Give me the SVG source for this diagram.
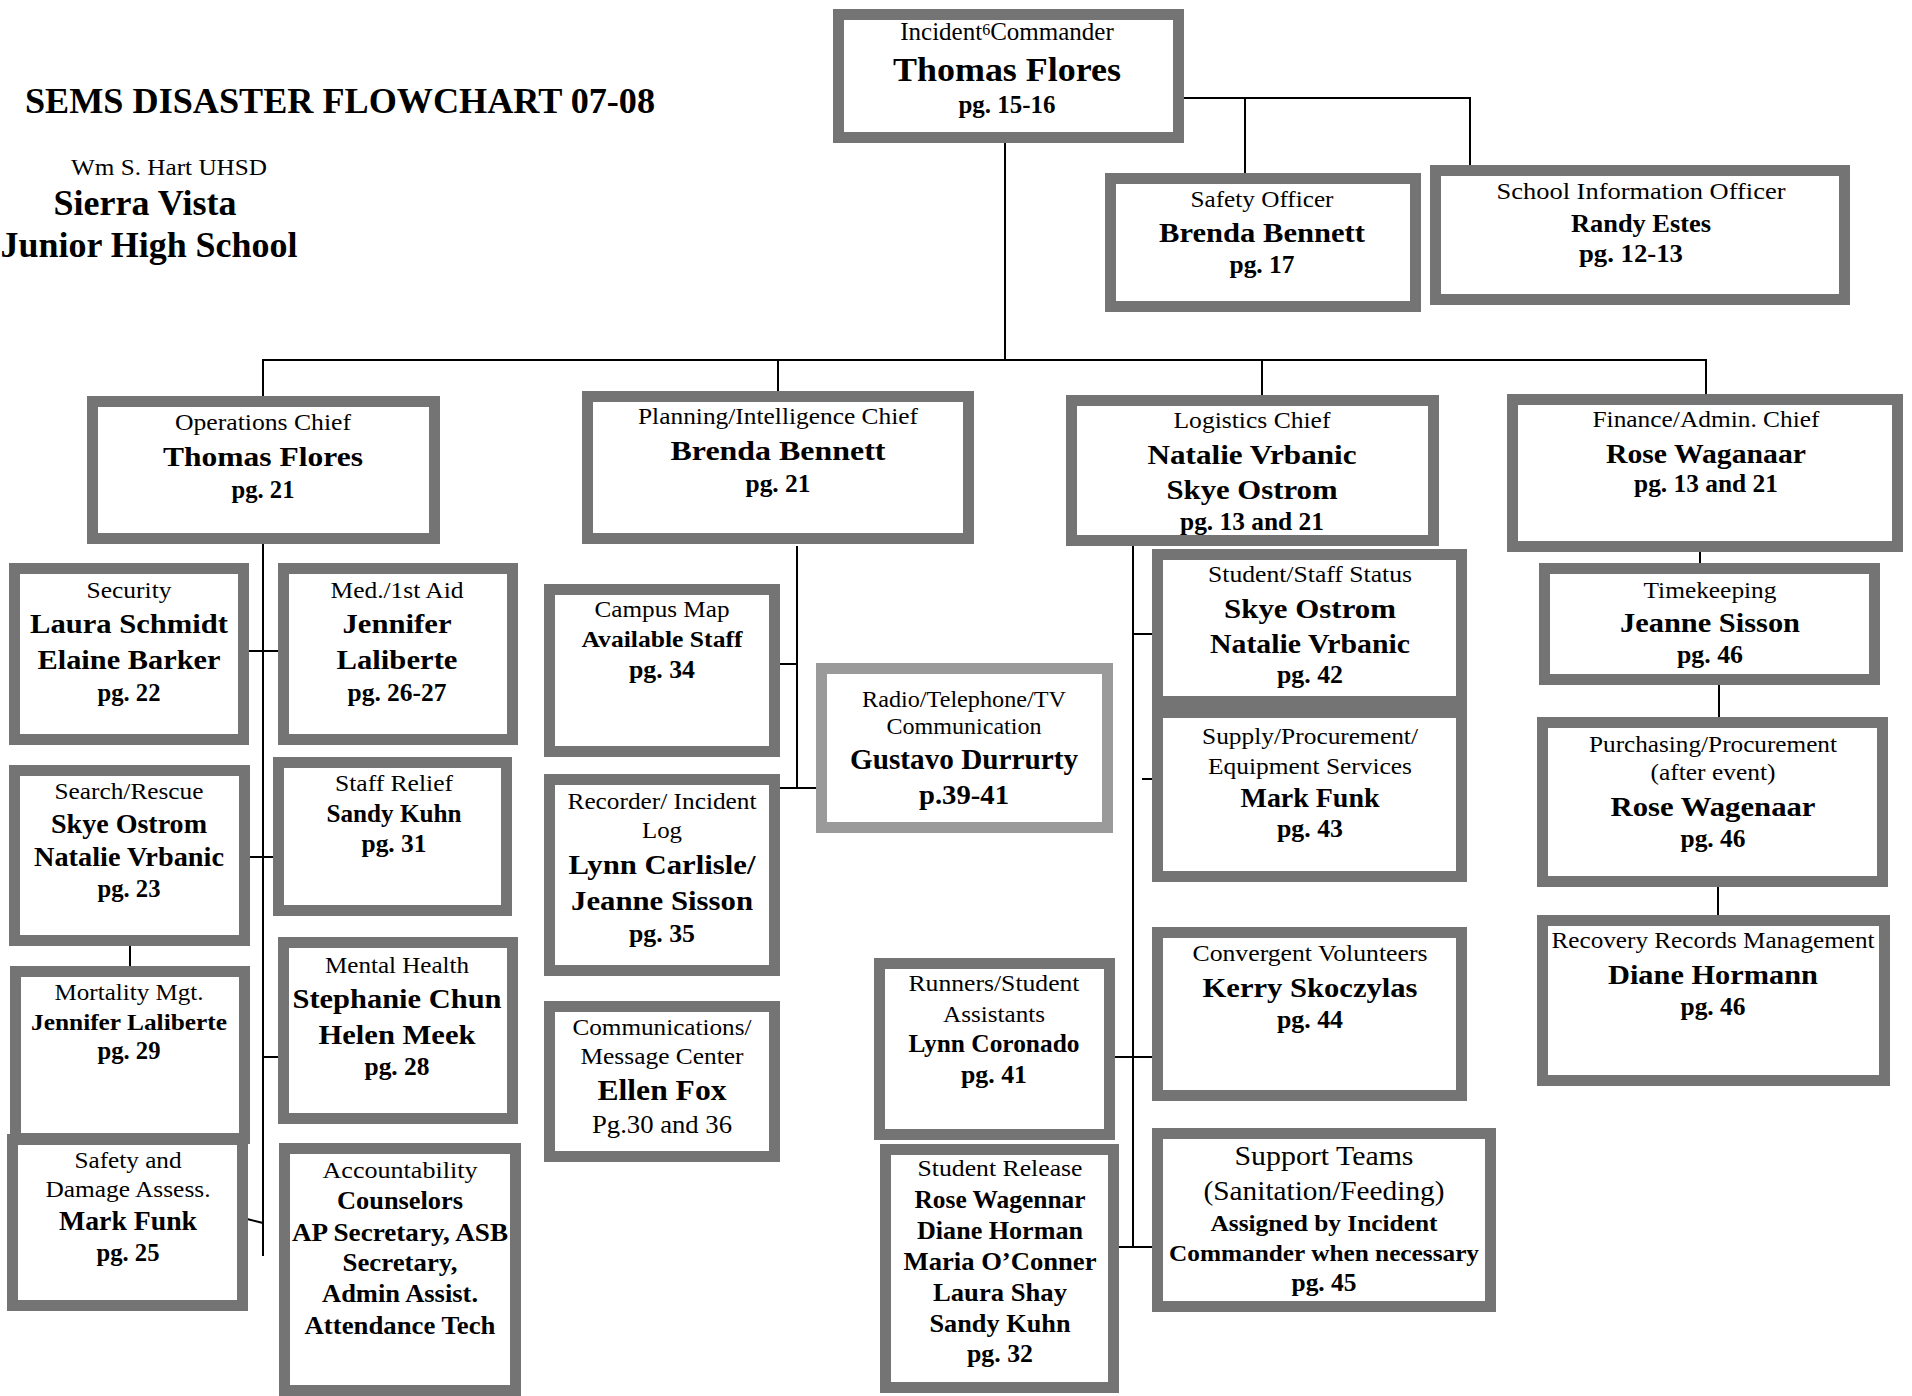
<svg xmlns="http://www.w3.org/2000/svg" width="1912" height="1396" viewBox="0 0 1912 1396">
<style>
text{font-family:"Liberation Serif","Times New Roman",serif;fill:#000;text-anchor:middle}
.box{fill:#fff;stroke:#747474;stroke-width:11}
.boxl{fill:#fff;stroke:#9a9a9a;stroke-width:11}
.l{font-size:24px}
.n{font-size:28px;font-weight:bold}
.p{font-size:25px;font-weight:bold}
.conn line{stroke:#000;stroke-width:2}
</style>
<rect width="1912" height="1396" fill="#fff"/>
<g id="header">
<text x="25" y="113" style="text-anchor:start;font-size:36px;font-weight:bold" textLength="630" lengthAdjust="spacingAndGlyphs">SEMS DISASTER FLOWCHART 07-08</text>
<text x="169" y="175" class="l" textLength="196" lengthAdjust="spacingAndGlyphs">Wm S. Hart UHSD</text>
<text x="145" y="215" style="font-size:35px;font-weight:bold" textLength="183" lengthAdjust="spacingAndGlyphs">Sierra Vista</text>
<text x="149" y="257" style="font-size:35px;font-weight:bold" textLength="297" lengthAdjust="spacingAndGlyphs">Junior High School</text>
</g>
<g class="conn" id="connectors">
<line x1="1182" y1="98" x2="1470" y2="98"/>
<line x1="1245" y1="98" x2="1245" y2="174"/>
<line x1="1470" y1="97" x2="1470" y2="166"/>
<line x1="1005" y1="140" x2="1005" y2="360"/>
<line x1="262" y1="360" x2="1707" y2="360"/>
<line x1="263" y1="359" x2="263" y2="397"/>
<line x1="778" y1="359" x2="778" y2="392"/>
<line x1="1262" y1="359" x2="1262" y2="396"/>
<line x1="1706" y1="359" x2="1706" y2="395"/>
<line x1="263" y1="540" x2="263" y2="1256"/>
<line x1="245" y1="651" x2="283" y2="651"/>
<line x1="245" y1="857" x2="284" y2="857"/>
<line x1="263" y1="1057" x2="282" y2="1057"/>
<line x1="243" y1="1218" x2="263" y2="1223"/>
<line x1="130" y1="944" x2="130" y2="970"/>
<line x1="797" y1="546" x2="797" y2="789"/>
<line x1="777" y1="664" x2="797" y2="664"/>
<line x1="778" y1="788" x2="818" y2="788"/>
<line x1="1133" y1="542" x2="1133" y2="1248"/>
<line x1="1133" y1="634" x2="1154" y2="634"/>
<line x1="1142" y1="779" x2="1156" y2="779"/>
<line x1="1112" y1="1057" x2="1154" y2="1057"/>
<line x1="1117" y1="1247" x2="1154" y2="1247"/>
<line x1="1700" y1="548" x2="1700" y2="570"/>
<line x1="1719" y1="681" x2="1719" y2="721"/>
<line x1="1718" y1="883" x2="1718" y2="919"/>
</g>
<g id="incident-commander">
<rect class="box" x="838.5" y="14.5" width="340" height="123"/>
<text x="1007" y="40" class="l" style="font-size:25px">Incident<tspan font-size="16" dy="-5">6</tspan><tspan dy="5">Commander</tspan></text>
<text x="1007" y="81" class="n" style="font-size:34px" textLength="228" lengthAdjust="spacingAndGlyphs">Thomas Flores</text>
<text x="1007" y="113" class="p" textLength="97" lengthAdjust="spacingAndGlyphs">pg. 15-16</text>
</g>
<g id="safety-officer">
<rect class="box" x="1110.5" y="178.5" width="305" height="128"/>
<text x="1262" y="207" class="l" textLength="143" lengthAdjust="spacingAndGlyphs">Safety Officer</text>
<text x="1262" y="242" class="n" textLength="206" lengthAdjust="spacingAndGlyphs">Brenda Bennett</text>
<text x="1262" y="273" class="p" textLength="65" lengthAdjust="spacingAndGlyphs">pg. 17</text>
</g>
<g id="school-information-officer">
<rect class="box" x="1435.5" y="170.5" width="409" height="129"/>
<text x="1641" y="199" class="l" textLength="289" lengthAdjust="spacingAndGlyphs">School Information Officer</text>
<text x="1641" y="232" class="n" style="font-size:26px" textLength="140" lengthAdjust="spacingAndGlyphs">Randy Estes</text>
<text x="1631" y="262" class="p" textLength="104" lengthAdjust="spacingAndGlyphs">pg. 12-13</text>
</g>
<g id="operations-chief">
<rect class="box" x="92.5" y="401.5" width="342" height="137"/>
<text x="263" y="430" class="l" textLength="176" lengthAdjust="spacingAndGlyphs">Operations Chief</text>
<text x="263" y="466" class="n" textLength="200" lengthAdjust="spacingAndGlyphs">Thomas Flores</text>
<text x="263" y="498" class="p" textLength="63" lengthAdjust="spacingAndGlyphs">pg. 21</text>
</g>
<g id="planning-chief">
<rect class="box" x="587.5" y="396.5" width="381" height="142"/>
<text x="778" y="424" class="l" textLength="280" lengthAdjust="spacingAndGlyphs">Planning/Intelligence Chief</text>
<text x="778" y="460" class="n" textLength="215" lengthAdjust="spacingAndGlyphs">Brenda Bennett</text>
<text x="778" y="492" class="p" textLength="65" lengthAdjust="spacingAndGlyphs">pg. 21</text>
</g>
<g id="logistics-chief">
<rect class="box" x="1071.5" y="400.5" width="362" height="140"/>
<text x="1252" y="428" class="l" textLength="157" lengthAdjust="spacingAndGlyphs">Logistics Chief</text>
<text x="1252" y="464" class="n" textLength="209" lengthAdjust="spacingAndGlyphs">Natalie Vrbanic</text>
<text x="1252" y="499" class="n" textLength="171" lengthAdjust="spacingAndGlyphs">Skye Ostrom</text>
<text x="1252" y="530" class="p" textLength="144" lengthAdjust="spacingAndGlyphs">pg. 13 and 21</text>
</g>
<g id="finance-chief">
<rect class="box" x="1512.5" y="399.5" width="385" height="147"/>
<text x="1706" y="427" class="l" textLength="227" lengthAdjust="spacingAndGlyphs">Finance/Admin. Chief</text>
<text x="1706" y="463" class="n" textLength="200" lengthAdjust="spacingAndGlyphs">Rose Waganaar</text>
<text x="1706" y="492" class="p" textLength="144" lengthAdjust="spacingAndGlyphs">pg. 13 and 21</text>
</g>
<g id="security">
<rect class="box" x="14.5" y="568.5" width="229" height="171"/>
<text x="129" y="598" class="l" textLength="85" lengthAdjust="spacingAndGlyphs">Security</text>
<text x="129" y="633" class="n" textLength="198" lengthAdjust="spacingAndGlyphs">Laura Schmidt</text>
<text x="129" y="669" class="n" textLength="183" lengthAdjust="spacingAndGlyphs">Elaine Barker</text>
<text x="129" y="701" class="p" textLength="63" lengthAdjust="spacingAndGlyphs">pg. 22</text>
</g>
<g id="med-first-aid">
<rect class="box" x="283.5" y="568.5" width="229" height="171"/>
<text x="397" y="598" class="l" textLength="133" lengthAdjust="spacingAndGlyphs">Med./1st Aid</text>
<text x="397" y="633" class="n" textLength="109" lengthAdjust="spacingAndGlyphs">Jennifer</text>
<text x="397" y="669" class="n" textLength="121" lengthAdjust="spacingAndGlyphs">Laliberte</text>
<text x="397" y="701" class="p" textLength="99" lengthAdjust="spacingAndGlyphs">pg. 26-27</text>
</g>
<g id="search-rescue">
<rect class="box" x="14.5" y="770.5" width="230" height="170"/>
<text x="129" y="799" class="l" textLength="149" lengthAdjust="spacingAndGlyphs">Search/Rescue</text>
<text x="129" y="833" class="n" style="font-size:27px" textLength="156" lengthAdjust="spacingAndGlyphs">Skye Ostrom</text>
<text x="129" y="866" class="n" style="font-size:27px" textLength="190" lengthAdjust="spacingAndGlyphs">Natalie Vrbanic</text>
<text x="129" y="897" class="p" textLength="63" lengthAdjust="spacingAndGlyphs">pg. 23</text>
</g>
<g id="staff-relief">
<rect class="box" x="278.5" y="762.5" width="228" height="148"/>
<text x="394" y="791" class="l" textLength="118" lengthAdjust="spacingAndGlyphs">Staff Relief</text>
<text x="394" y="822" class="n" style="font-size:25px" textLength="135" lengthAdjust="spacingAndGlyphs">Sandy Kuhn</text>
<text x="394" y="852" class="p" textLength="65" lengthAdjust="spacingAndGlyphs">pg. 31</text>
</g>
<g id="mortality">
<rect class="box" x="15.5" y="971.5" width="229" height="167"/>
<text x="129" y="1000" class="l" textLength="149" lengthAdjust="spacingAndGlyphs">Mortality Mgt.</text>
<text x="129" y="1030" class="n" style="font-size:24px" textLength="196" lengthAdjust="spacingAndGlyphs">Jennifer Laliberte</text>
<text x="129" y="1059" class="p" textLength="63" lengthAdjust="spacingAndGlyphs">pg. 29</text>
</g>
<g id="mental-health">
<rect class="box" x="283.5" y="942.5" width="229" height="176"/>
<text x="397" y="973" class="l" textLength="144" lengthAdjust="spacingAndGlyphs">Mental Health</text>
<text x="397" y="1008" class="n" textLength="209" lengthAdjust="spacingAndGlyphs">Stephanie Chun</text>
<text x="397" y="1044" class="n" textLength="157" lengthAdjust="spacingAndGlyphs">Helen Meek</text>
<text x="397" y="1075" class="p" textLength="65" lengthAdjust="spacingAndGlyphs">pg. 28</text>
</g>
<g id="safety-damage">
<rect class="box" x="12.5" y="1139.5" width="230" height="166"/>
<text x="128" y="1168" class="l" textLength="107" lengthAdjust="spacingAndGlyphs">Safety and</text>
<text x="128" y="1197" class="l" textLength="165" lengthAdjust="spacingAndGlyphs">Damage Assess.</text>
<text x="128" y="1230" class="n" textLength="138" lengthAdjust="spacingAndGlyphs">Mark Funk</text>
<text x="128" y="1261" class="p" textLength="63" lengthAdjust="spacingAndGlyphs">pg. 25</text>
</g>
<g id="accountability">
<rect class="box" x="284.5" y="1148.5" width="231" height="242"/>
<text x="400" y="1178" class="l" textLength="155" lengthAdjust="spacingAndGlyphs">Accountability</text>
<text x="400" y="1209" class="n" style="font-size:25px" textLength="126" lengthAdjust="spacingAndGlyphs">Counselors</text>
<text x="400" y="1241" class="n" style="font-size:25px" textLength="216" lengthAdjust="spacingAndGlyphs">AP Secretary, ASB</text>
<text x="400" y="1271" class="n" style="font-size:25px" textLength="115" lengthAdjust="spacingAndGlyphs">Secretary,</text>
<text x="400" y="1302" class="n" style="font-size:25px" textLength="156" lengthAdjust="spacingAndGlyphs">Admin Assist.</text>
<text x="400" y="1334" class="n" style="font-size:25px" textLength="191" lengthAdjust="spacingAndGlyphs">Attendance Tech</text>
</g>
<g id="campus-map">
<rect class="box" x="549.5" y="589.5" width="225" height="162"/>
<text x="662" y="617" class="l" textLength="135" lengthAdjust="spacingAndGlyphs">Campus Map</text>
<text x="662" y="647" class="n" style="font-size:24px" textLength="161" lengthAdjust="spacingAndGlyphs">Available Staff</text>
<text x="662" y="678" class="p" textLength="66" lengthAdjust="spacingAndGlyphs">pg. 34</text>
</g>
<g id="radio-communication">
<rect class="boxl" x="821.5" y="668.5" width="286" height="159"/>
<text x="964" y="707" class="l" textLength="204" lengthAdjust="spacingAndGlyphs">Radio/Telephone/TV</text>
<text x="964" y="734" class="l" textLength="155" lengthAdjust="spacingAndGlyphs">Communication</text>
<text x="964" y="769" class="n" style="font-size:29px" textLength="228" lengthAdjust="spacingAndGlyphs">Gustavo Durrurty</text>
<text x="964" y="804" class="n" textLength="90" lengthAdjust="spacingAndGlyphs">p.39-41</text>
</g>
<g id="recorder">
<rect class="box" x="549.5" y="779.5" width="225" height="191"/>
<text x="662" y="809" class="l" textLength="189" lengthAdjust="spacingAndGlyphs">Recorder/ Incident</text>
<text x="662" y="838" class="l" textLength="40" lengthAdjust="spacingAndGlyphs">Log</text>
<text x="662" y="874" class="n" textLength="187" lengthAdjust="spacingAndGlyphs">Lynn Carlisle/</text>
<text x="662" y="910" class="n" textLength="182" lengthAdjust="spacingAndGlyphs">Jeanne Sisson</text>
<text x="662" y="942" class="p" textLength="66" lengthAdjust="spacingAndGlyphs">pg. 35</text>
</g>
<g id="communications">
<rect class="box" x="549.5" y="1006.5" width="225" height="150"/>
<text x="662" y="1035" class="l" textLength="179" lengthAdjust="spacingAndGlyphs">Communications/</text>
<text x="662" y="1064" class="l" textLength="163" lengthAdjust="spacingAndGlyphs">Message Center</text>
<text x="662" y="1100" class="n" style="font-size:30px" textLength="129" lengthAdjust="spacingAndGlyphs">Ellen Fox</text>
<text x="662" y="1133" class="l" style="font-size:26px" textLength="140" lengthAdjust="spacingAndGlyphs">Pg.30 and 36</text>
</g>
<g id="student-staff-status">
<rect class="box" x="1157.5" y="554.5" width="304" height="147"/>
<text x="1310" y="582" class="l" textLength="204" lengthAdjust="spacingAndGlyphs">Student/Staff Status</text>
<text x="1310" y="618" class="n" textLength="172" lengthAdjust="spacingAndGlyphs">Skye Ostrom</text>
<text x="1310" y="653" class="n" textLength="200" lengthAdjust="spacingAndGlyphs">Natalie Vrbanic</text>
<text x="1310" y="683" class="p" textLength="66" lengthAdjust="spacingAndGlyphs">pg. 42</text>
</g>
<g id="supply-procurement">
<rect class="box" x="1157.5" y="712.5" width="304" height="164"/>
<text x="1310" y="744" class="l" textLength="216" lengthAdjust="spacingAndGlyphs">Supply/Procurement/</text>
<text x="1310" y="774" class="l" textLength="204" lengthAdjust="spacingAndGlyphs">Equipment Services</text>
<text x="1310" y="807" class="n" textLength="139" lengthAdjust="spacingAndGlyphs">Mark Funk</text>
<text x="1310" y="837" class="p" textLength="66" lengthAdjust="spacingAndGlyphs">pg. 43</text>
</g>
<g id="convergent-volunteers">
<rect class="box" x="1157.5" y="932.5" width="304" height="163"/>
<text x="1310" y="961" class="l" textLength="235" lengthAdjust="spacingAndGlyphs">Convergent Volunteers</text>
<text x="1310" y="997" class="n" textLength="215" lengthAdjust="spacingAndGlyphs">Kerry Skoczylas</text>
<text x="1310" y="1028" class="p" textLength="66" lengthAdjust="spacingAndGlyphs">pg. 44</text>
</g>
<g id="runners">
<rect class="box" x="879.5" y="963.5" width="230" height="171"/>
<text x="994" y="991" class="l" textLength="171" lengthAdjust="spacingAndGlyphs">Runners/Student</text>
<text x="994" y="1022" class="l" textLength="102" lengthAdjust="spacingAndGlyphs">Assistants</text>
<text x="994" y="1052" class="n" style="font-size:25px" textLength="171" lengthAdjust="spacingAndGlyphs">Lynn Coronado</text>
<text x="994" y="1083" class="p" textLength="66" lengthAdjust="spacingAndGlyphs">pg. 41</text>
</g>
<g id="student-release">
<rect class="box" x="885.5" y="1149.5" width="228" height="238"/>
<text x="1000" y="1176" class="l" textLength="165" lengthAdjust="spacingAndGlyphs">Student Release</text>
<text x="1000" y="1208" class="n" style="font-size:25px" textLength="171" lengthAdjust="spacingAndGlyphs">Rose Wagennar</text>
<text x="1000" y="1239" class="n" style="font-size:25px" textLength="166" lengthAdjust="spacingAndGlyphs">Diane Horman</text>
<text x="1000" y="1270" class="n" style="font-size:25px" textLength="193" lengthAdjust="spacingAndGlyphs">Maria O’Conner</text>
<text x="1000" y="1301" class="n" style="font-size:25px" textLength="134" lengthAdjust="spacingAndGlyphs">Laura Shay</text>
<text x="1000" y="1332" class="n" style="font-size:25px" textLength="141" lengthAdjust="spacingAndGlyphs">Sandy Kuhn</text>
<text x="1000" y="1362" class="p" textLength="66" lengthAdjust="spacingAndGlyphs">pg. 32</text>
</g>
<g id="support-teams">
<rect class="box" x="1157.5" y="1133.5" width="333" height="173"/>
<text x="1324" y="1165" class="l" style="font-size:28px" textLength="179" lengthAdjust="spacingAndGlyphs">Support Teams</text>
<text x="1324" y="1200" class="l" style="font-size:28px" textLength="241" lengthAdjust="spacingAndGlyphs">(Sanitation/Feeding)</text>
<text x="1324" y="1231" class="n" style="font-size:24px" textLength="227" lengthAdjust="spacingAndGlyphs">Assigned by Incident</text>
<text x="1324" y="1261" class="n" style="font-size:24px" textLength="310" lengthAdjust="spacingAndGlyphs">Commander when necessary</text>
<text x="1324" y="1291" class="p" textLength="65" lengthAdjust="spacingAndGlyphs">pg. 45</text>
</g>
<g id="timekeeping">
<rect class="box" x="1544.5" y="568.5" width="330" height="111"/>
<text x="1710" y="598" class="l" textLength="133" lengthAdjust="spacingAndGlyphs">Timekeeping</text>
<text x="1710" y="632" class="n" textLength="180" lengthAdjust="spacingAndGlyphs">Jeanne Sisson</text>
<text x="1710" y="663" class="p" textLength="66" lengthAdjust="spacingAndGlyphs">pg. 46</text>
</g>
<g id="purchasing">
<rect class="box" x="1542.5" y="722.5" width="340" height="159"/>
<text x="1713" y="752" class="l" textLength="248" lengthAdjust="spacingAndGlyphs">Purchasing/Procurement</text>
<text x="1713" y="780" class="l" textLength="125" lengthAdjust="spacingAndGlyphs">(after event)</text>
<text x="1713" y="816" class="n" textLength="205" lengthAdjust="spacingAndGlyphs">Rose Wagenaar</text>
<text x="1713" y="847" class="p" textLength="65" lengthAdjust="spacingAndGlyphs">pg. 46</text>
</g>
<g id="recovery-records">
<rect class="box" x="1542.5" y="920.5" width="342" height="160"/>
<text x="1713" y="948" class="l" textLength="323" lengthAdjust="spacingAndGlyphs">Recovery Records Management</text>
<text x="1713" y="984" class="n" textLength="210" lengthAdjust="spacingAndGlyphs">Diane Hormann</text>
<text x="1713" y="1015" class="p" textLength="65" lengthAdjust="spacingAndGlyphs">pg. 46</text>
</g>
</svg>
